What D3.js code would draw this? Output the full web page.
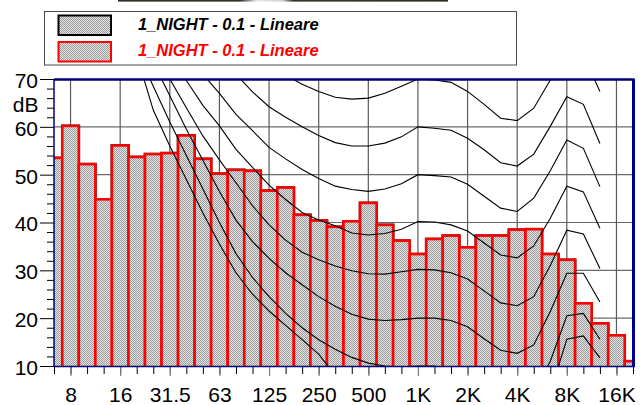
<!DOCTYPE html>
<html>
<head>
<meta charset="utf-8">
<script src="https://cdn.jsdelivr.net/npm/d3@7"></script>
<style>
  html, body { margin: 0; padding: 0; background: #ffffff; }
  svg { display: block; font-family: "Liberation Sans", Arial, Helvetica, sans-serif; }
</style>
</head>
<body>
<svg id="chart" width="641" height="405"></svg>
<script>
// One-third-octave band centres of the spectrum (nominal labels)
const bands = ["6.3","8","10","12.5","16","20","25","31.5","40","50","63","80","100","125","160",
  "200","250","315","400","500","630","800","1K","1.25K","1.6K","2K","2.5K","3.15K","4K","5K",
  "6.3K","8K","10K","12.5K","16K","20K"];

// Band levels, dB (linear weighting)
const levels = [53.5,60.2,52.2,44.85,56.1,53.7,54.3,54.5,58.2,53.3,50.2,51.0,50.8,46.65,47.3,
  41.6,40.4,39.1,40.25,44.1,39.5,36.2,33.4,36.55,37.25,34.8,37.25,37.25,38.5,38.6,
  33.4,32.2,23.1,18.9,16.4,11.0];

// Two measurement series sharing the same spectrum
const seriesNames = ["1_NIGHT - 0.1 - Lineare", "1_NIGHT - 0.1 - Lineare"];
const seriesColors = ["#000000", "#ff0000"];

// Reference contour bands (20 Hz .. 12.5 kHz)
const contourBands = ["20","25","31.5","40","50","63","80","100","125","160","200","250","315",
  "400","500","630","800","1K","1.25K","1.6K","2K","2.5K","3.15K","4K","5K","6.3K","8K","10K","12.5K"];
const contour70 = [113,107,101,95,90,85,81,77,73.5,70.8,68.9,67.4,66.2,65.8,66.0,67.0,68.5,70,69.8,69.3,67.4,64.7,61.8,61.3,63.9,69.8,76.5,75,67.4];
const contour60 = [104,98,92,86,80,75,71,67.3,64.2,62.0,60.0,58.2,56.7,56.0,56.0,56.6,57.9,60,59.7,59.3,57.6,55.2,52.5,51.8,54.3,60.1,66.3,64.7,56.5];
const contour50 = [95,88,82,76,71,67,62.6,59.2,55.7,53.3,51.1,49.2,47.6,46.9,46.5,47.0,48.1,50,49.8,49.5,48.0,45.5,43.0,42.3,45.1,50.8,57.25,55.5,47.5];
const contour40 = [88,81,75,69.7,64.5,60.2,55.3,51.5,47.8,44.8,42.1,40.5,39.3,37.8,37.4,37.7,38.6,40.2,40.1,39.5,38.2,35.7,33.2,32.6,35.1,40.9,47.6,46.4,38.8];
const contour30 = [85,77.5,70,64,58.1,53.1,48.3,43.5,39.5,36.3,33.8,32.2,30.9,29.9,29.3,29.2,29.7,30.2,30.1,29.5,28.2,25.7,23.2,22.6,24.5,31.0,38.4,37.6,30.4];
const contour20 = [80,73.5,66.5,59.5,53,46.5,40.5,36,32.5,29.5,27,24.5,22.5,20.8,19.8,19.5,19.7,20,20,19.5,18.2,15.7,13.3,12.65,14.4,21.4,29.4,29.4,23.4];
const contour10 = [76,68.5,61,54,47,40,33.5,28.5,24.5,21,18,15.5,13.5,11.8,10.6,10,9.8,10,10,9.5,8,5.5,3,2.5,4.5,11,20.5,21,15.6];
const contour0  = [75,63.5,56,49,42,35.5,29.5,25,21.5,18.5,15.5,12.5,8,5,3,1.5,0.5,0,0,-0.5,-2,-4.5,-7,-7.5,-5.5,4.5,15.6,16.3,11.7];
const contours = [contour70, contour60, contour50, contour40, contour30, contour20, contour10, contour0];

// Axis labels
const yTicks = [10, 20, 30, 40, 50, 60, 70];
const yUnit = "dB";
const octaveLabels = ["8","16","31.5","63","125","250","500","1K","2K","4K","8K","16K"];

// Nominal band label -> exact base-2 third-octave centre frequency
function freq(label) {
  const f = label.endsWith("K") ? parseFloat(label) * 1000 : parseFloat(label);
  const k = Math.round(3 * Math.log2(f / 1000));
  return 1000 * Math.pow(2, k / 3);
}

const svg = d3.select("#chart");
const plot = { left: 54, right: 633, top: 79, bottom: 366 };

const x = d3.scaleLog().domain([freq(bands[0]), freq(bands[bands.length - 1])]).range([plot.left, plot.right]);
const y = d3.scaleLinear().domain([10, 70]).range([plot.bottom, plot.top]);

const defs = svg.append("defs");
const pat = defs.append("pattern").attr("id", "dither")
  .attr("width", 2).attr("height", 2).attr("patternUnits", "userSpaceOnUse");
pat.append("rect").attr("width", 2).attr("height", 2).attr("fill", "#e6e6e6");
pat.append("rect").attr("width", 1).attr("height", 1).attr("fill", "#9a9a9a");
pat.append("rect").attr("x", 1).attr("y", 1).attr("width", 1).attr("height", 1).attr("fill", "#9a9a9a");

defs.append("clipPath").attr("id", "plotClip").append("rect")
  .attr("x", plot.left).attr("y", plot.top)
  .attr("width", plot.right - plot.left).attr("height", plot.bottom - plot.top);

const strip = defs.append("linearGradient").attr("id", "strip");
[[0, "#2c3124"], [0.37, "#2c3124"], [0.42, "#e8e8e8"], [0.5, "#d0d0d0"], [0.53, "#30352a"], [1, "#2a2e22"]]
  .forEach(([o, c]) => strip.append("stop").attr("offset", o).attr("stop-color", c));

// Strip at the very top of the page
svg.append("rect").attr("x", 118).attr("y", 0).attr("width", 330).attr("height", 1.6).attr("fill", "url(#strip)");

// Legend
const legend = svg.append("g");
legend.append("rect").attr("x", 44.5).attr("y", 11.5).attr("width", 472).attr("height", 53.5)
  .attr("fill", "#ffffff").attr("stroke", "#4a4a4a").attr("stroke-width", 1);
seriesNames.forEach((name, i) => {
  const yy = 15.5 + i * 26.5;
  legend.append("rect").attr("x", 58.5).attr("y", yy).attr("width", 52.5).attr("height", 19.5)
    .attr("fill", "url(#dither)").attr("stroke", seriesColors[i]).attr("stroke-width", 2);
  legend.append("text").attr("x", 138).attr("y", 29.5 + i * 26.5)
    .attr("font-size", 16.5).attr("font-weight", "bold").attr("font-style", "italic")
    .attr("fill", seriesColors[i]).text(name);
});

// Grid
const grid = svg.append("g");
grid.selectAll("line.h").data(yTicks.filter(v => v > 10 && v < 70)).join("line")
  .attr("x1", plot.left).attr("x2", plot.right).attr("y1", d => y(d)).attr("y2", d => y(d))
  .attr("stroke", "#6a6a6a").attr("stroke-width", 1.2);
grid.selectAll("line.v").data(octaveLabels).join("line")
  .attr("x1", d => x(freq(d))).attr("x2", d => x(freq(d))).attr("y1", plot.top).attr("y2", plot.bottom)
  .attr("stroke", "#5a5a5a").attr("stroke-width", 1.2);

// Bars: black-outlined series, then red-outlined series on top
const barLayer = svg.append("g").attr("clip-path", "url(#plotClip)");
seriesColors.forEach(color => {
  barLayer.append("g").selectAll("rect").data(bands).join("rect")
    .attr("x", d => x(freq(d) * Math.pow(2, -1 / 6)))
    .attr("width", d => x(freq(d) * Math.pow(2, 1 / 6)) - x(freq(d) * Math.pow(2, -1 / 6)))
    .attr("y", (d, i) => y(levels[i]))
    .attr("height", (d, i) => y(10) - y(levels[i]) + 2)
    .attr("fill", "url(#dither)").attr("stroke", color).attr("stroke-width", 2.6);
});

// Reference contours
const line = d3.line().x((d, i) => x(freq(contourBands[i]))).y(d => y(d));
svg.append("g").attr("clip-path", "url(#plotClip)").selectAll("path").data(contours).join("path")
  .attr("d", line).attr("fill", "none").attr("stroke", "#000").attr("stroke-width", 1.1);

// Y axis
const yAxis = svg.append("g").attr("transform", `translate(${plot.left},0)`)
  .call(d3.axisLeft(y).tickValues(yTicks).tickSize(14).tickPadding(2).tickFormat(d3.format("d")));
yAxis.select(".domain").remove();
yAxis.selectAll(".tick text").attr("font-size", 21).attr("fill", "#000").attr("dy", "0.40em")
  .attr("font-family", "Liberation Sans, Arial, sans-serif");
yAxis.selectAll(".tick line").attr("stroke", "#000");
svg.append("g").attr("transform", `translate(${plot.left},0)`)
  .call(d3.axisLeft(y).tickValues(d3.range(12, 70, 2).filter(v => v % 10 !== 0)).tickSize(7).tickFormat(""))
  .call(g => g.select(".domain").remove())
  .selectAll(".tick line").attr("stroke", "#000");
svg.append("text").attr("x", 38.5).attr("y", 111.5).attr("text-anchor", "end")
  .attr("font-size", 21).text(yUnit);

// X axis: third-octave ticks and labelled octave ticks
svg.append("g").attr("transform", `translate(0,${plot.bottom})`)
  .call(d3.axisBottom(x).tickValues(bands.map(freq)).tickSize(8).tickFormat(""))
  .call(g => g.select(".domain").remove())
  .selectAll(".tick line").attr("stroke", "#000");
const xAxis = svg.append("g").attr("transform", `translate(0,${plot.bottom})`)
  .call(d3.axisBottom(x).tickValues(octaveLabels.map(freq)).tickSize(10).tickPadding(10.6)
    .tickFormat((d, i) => octaveLabels[i]));
xAxis.select(".domain").remove();
xAxis.selectAll(".tick line").attr("stroke", "#808080").attr("stroke-width", 1.2);
xAxis.selectAll(".tick text").attr("font-size", 21).attr("fill", "#000")
  .attr("font-family", "Liberation Sans, Arial, sans-serif");

// Plot frame
const frame = svg.append("g").attr("stroke", "#00007a").attr("fill", "none");
frame.append("line").attr("x1", plot.left).attr("x2", plot.right + 1.5).attr("y1", plot.top + 0.5).attr("y2", plot.top + 0.5).attr("stroke-width", 2.5);
frame.append("line").attr("x1", plot.right + 0.5).attr("x2", plot.right + 0.5).attr("y1", plot.top).attr("y2", plot.bottom).attr("stroke", "#000090").attr("stroke-width", 3);
frame.append("line").attr("x1", plot.left).attr("x2", plot.left).attr("y1", plot.top).attr("y2", plot.bottom + 0.5).attr("stroke-width", 1.5);
frame.append("line").attr("x1", plot.left).attr("x2", plot.right + 2).attr("y1", plot.bottom + 0.5).attr("y2", plot.bottom + 0.5).attr("stroke-width", 1.5);
</script>
</body>
</html>
